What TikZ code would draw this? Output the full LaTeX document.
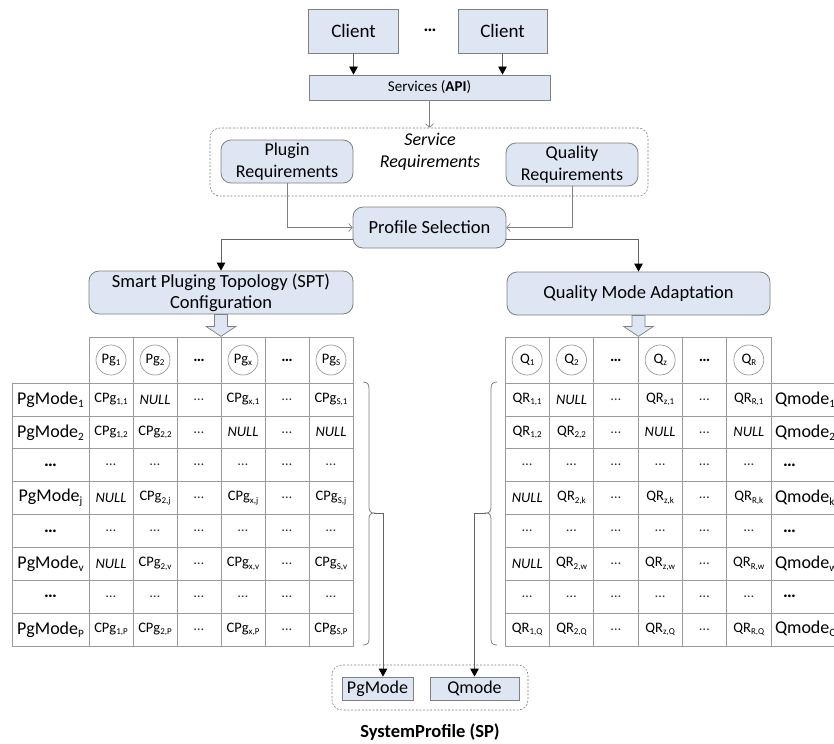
\documentclass[tikz,border=0pt]{standalone}
\usepackage{fontspec}
\setmainfont{Carlito}
\usepackage{graphicx}
\usetikzlibrary{arrows.meta}

\definecolor{boxfill}{RGB}{221,230,242}
\definecolor{boxline}{RGB}{128,128,128}
\definecolor{gridline}{RGB}{155,155,155}
\definecolor{wire}{RGB}{100,100,100}

\newcommand{\fsz}[2]{\fontsize{#1}{#2}\selectfont}
\newcommand{\Sb}[1]{\raisebox{-0.35ex}{\scalebox{0.62}{#1}}}
\newcommand{\Cpg}[1]{CPg\Sb{#1}}
\newcommand{\Qr}[1]{QR\Sb{#1}}
\newcommand{\Nul}{\textit{NULL}}
\newcommand{\Dt}{\textcolor{black!80}{…}}
\newcommand{\Bd}{\textbf{…}}

\begin{document}
\begin{tikzpicture}[x=1bp, y=-1bp,
  box/.style={draw=boxline, fill=boxfill, line width=0.8bp, inner sep=0pt},
  rbox/.style={box, rounded corners=10bp},
  grp/.style={draw=boxline, line width=0.6bp, dash pattern=on 2bp off 1.6bp, rounded corners=10bp, inner sep=0pt},
  arr/.style={draw=wire, line width=0.8bp, -{Triangle[length=8bp,width=8.5bp,color=black]}},
  barb/.style={draw=boxline, line width=0.7bp, -{Straight Barb[length=3.5bp,width=8bp]}},
  blk/.style={draw=boxline, fill=boxfill, line width=0.7bp, line join=miter},
  brc/.style={draw=boxline, line width=0.8bp},
  cell/.style={draw=gridline, line width=0.7bp, minimum width=44bp, minimum height=32.875bp, inner sep=0pt, font=\fsz{14.5bp}{16bp}},
  lcell/.style={cell, minimum width=77bp, font=\fsz{18bp}{20bp}},
  qcell/.style={cell, minimum width=100bp, text width=92bp, inner xsep=4bp, align=left, font=\fsz{18bp}{20bp}},
  hcell/.style={cell, minimum height=46bp},
  hcirc/.style={circle, draw=gridline, line width=0.7bp, minimum size=30bp, inner sep=0pt, font=\fsz{14.5bp}{16bp}},
  hdots/.style={font=\bfseries\fsz{16bp}{18bp}}
]
\useasboundingbox (0,0) rectangle (834,744);
\clip (0,0) rectangle (834,744);

% clients and service layer
\node[box, minimum width=90bp, minimum height=44bp, font=\fsz{19bp}{22bp}] (c1) at (353.5,31) {Client};
\node[box, minimum width=89bp, minimum height=44bp, font=\fsz{19bp}{22bp}] (c2) at (502.5,31) {Client};
\node[font=\bfseries\fsz{18bp}{20bp}] (cdots) at (430,30) {…};
\node[box, minimum width=241bp, minimum height=25bp, font=\fsz{15bp}{17bp}] (svc) at (429.5,87.5) {Services (\textbf{API})};
\draw[arr] (c1.south) -- (c1.south |- svc.north);
\draw[arr] (c2.south) -- (c2.south |- svc.north);

% service requirements group
\node[grp, minimum width=438bp, minimum height=68bp] (srg) at (429,162) {};
\node[font=\itshape\fsz{18bp}{22bp}, align=center] (srt) at (430,152) {Service\\Requirements};
\node[rbox, minimum width=132bp, minimum height=43bp, align=center, font=\fsz{18bp}{22bp}] (plr) at (287,161.5) {Plugin\\Requirements};
\node[rbox, minimum width=132bp, minimum height=43bp, align=center, font=\fsz{18bp}{22bp}] (qlr) at (572,164.5) {Quality\\Requirements};
\draw[barb] (svc.south) -- (svc.south |- srg.north);

% profile selection
\node[rbox, minimum width=153bp, minimum height=41bp, font=\fsz{18.5bp}{22bp}] (ps) at (429.5,227.5) {Profile Selection};
\draw[barb] (plr.south) |- (ps.west);
\draw[barb] (qlr.south) |- (ps.east);

% configuration blocks
\node[rbox, minimum width=264bp, minimum height=43bp, align=center, font=\fsz{18.5bp}{21bp}] (spt) at (221,292.5) {Smart Pluging Topology (SPT)\\Configuration};
\node[rbox, minimum width=263bp, minimum height=43bp, font=\fsz{18.5bp}{21bp}] (qma) at (638.5,293.5) {Quality Mode Adaptation};
\draw[arr] ([yshift=-12bp]ps.west) -| (spt.north);
\draw[arr] ([yshift=-12bp]ps.east) -| (qma.north);

% hollow block arrows into the tables
\draw[blk] ([xshift=-6.5bp]spt.south) -- ++(0,12) -- ++(-8.5,0) -- ++(15,10) -- ++(15,-10) -- ++(-8.5,0) -- ++(0,-12) -- cycle;
\draw[blk] ([xshift=-6.5bp]qma.south) -- ++(0,11) -- ++(-8.5,0) -- ++(15,10) -- ++(15,-10) -- ++(-8.5,0) -- ++(0,-11) -- cycle;

% plugin table: header
\foreach \j in {1,...,6} \node[hcell] (lh\j) at ({89+44*(\j-0.5)},360) {};
\foreach \j/\t in {1/1,2/2,4/x,6/S} \node[hcirc] (lc\j) at (lh\j) {Pg\Sb{\t}};
\foreach \j in {3,5} \node[hdots] (ld\j) at (lh\j) {…};

% plugin table: body
\foreach [count=\i] \rowc in {
  {PgMode\Sb{1}, \Cpg{1,1}, \Nul, \Dt, \Cpg{x,1}, \Dt, \Cpg{S,1}},
  {PgMode\Sb{2}, \Cpg{1,2}, \Cpg{2,2}, \Dt, \Nul, \Dt, \Nul},
  {\Bd, \Dt, \Dt, \Dt, \Dt, \Dt, \Dt},
  {PgMode\Sb{j}, \Nul, \Cpg{2,j}, \Dt, \Cpg{x,j}, \Dt, \Cpg{S,j}},
  {\Bd, \Dt, \Dt, \Dt, \Dt, \Dt, \Dt},
  {PgMode\Sb{v}, \Nul, \Cpg{2,v}, \Dt, \Cpg{x,v}, \Dt, \Cpg{S,v}},
  {\Bd, \Dt, \Dt, \Dt, \Dt, \Dt, \Dt},
  {PgMode\Sb{P}, \Cpg{1,P}, \Cpg{2,P}, \Dt, \Cpg{x,P}, \Dt, \Cpg{S,P}}}
{
  \foreach [count=\j] \cellc in \rowc {
    \ifnum\j=1
      \node[lcell] (l\i-\j) at (50.5,{383+32.875*(\i-0.5)}) {\cellc};
    \else
      \node[cell] (l\i-\j) at ({89+44*(\j-1.5)},{383+32.875*(\i-0.5)}) {\cellc};
    \fi
  }
}

% quality table: header
\foreach \j in {1,...,6} \node[hcell, minimum width=44.33bp] (rh\j) at ({505+44.33*(\j-0.5)},360) {};
\foreach \j/\t in {1/1,2/2,4/z,6/R} \node[hcirc] (rc\j) at (rh\j) {Q\Sb{\t}};
\foreach \j in {3,5} \node[hdots] (rd\j) at (rh\j) {…};

% quality table: body
\foreach [count=\i] \rowc in {
  {\Qr{1,1}, \Nul, \Dt, \Qr{z,1}, \Dt, \Qr{R,1}, Qmode\Sb{1}},
  {\Qr{1,2}, \Qr{2,2}, \Dt, \Nul, \Dt, \Nul, Qmode\Sb{2}},
  {\Dt, \Dt, \Dt, \Dt, \Dt, \Dt, \hspace*{8bp}\Bd},
  {\Nul, \Qr{2,k}, \Dt, \Qr{z,k}, \Dt, \Qr{R,k}, Qmode\Sb{k}},
  {\Dt, \Dt, \Dt, \Dt, \Dt, \Dt, \hspace*{8bp}\Bd},
  {\Nul, \Qr{2,w}, \Dt, \Qr{z,w}, \Dt, \Qr{R,w}, Qmode\Sb{w}},
  {\Dt, \Dt, \Dt, \Dt, \Dt, \Dt, \hspace*{8bp}\Bd},
  {\Qr{1,Q}, \Qr{2,Q}, \Dt, \Qr{z,Q}, \Dt, \Qr{R,Q}, Qmode\Sb{Q}}}
{
  \foreach [count=\j] \cellc in \rowc {
    \ifnum\j=7
      \node[qcell] (r\i-\j) at (821,{383+32.875*(\i-0.5)}) {\cellc};
    \else
      \node[cell, minimum width=44.33bp] (r\i-\j) at ({505+44.33*(\j-0.5)},{383+32.875*(\i-0.5)}) {\cellc};
    \fi
  }
}

% braces gathering the modes
\draw[brc] (363,382) .. controls (367.5,382) and (369,384) .. (369,389) -- (369,507)
  .. controls (369,511) and (370.5,513) .. (374,513)
  .. controls (370.5,513) and (369,515) .. (369,519) -- (369,639)
  .. controls (369,643) and (367.5,645) .. (363,645);
\draw[brc] (497,382) .. controls (492.5,382) and (491,384) .. (491,389) -- (491,507)
  .. controls (491,511) and (489.5,513) .. (486,513)
  .. controls (489.5,513) and (491,515) .. (491,519) -- (491,639)
  .. controls (491,643) and (492.5,645) .. (497,645);
\coordinate (lbt) at (374,513);
\coordinate (rbt) at (486,513);

% system profile
\node[grp, minimum width=196bp, minimum height=45bp] (sp) at (430,687.5) {};
\node[box, minimum width=71bp, minimum height=23bp, font=\fsz{18bp}{20bp}] (pgm) at (377.5,688.5) {PgMode};
\node[box, minimum width=89bp, minimum height=23bp, font=\fsz{18bp}{20bp}] (qm) at (474.5,688.5) {Qmode};
\node[font=\bfseries\fsz{18.5bp}{20bp}] (spl) at (430,732) {SystemProfile (SP)};
\draw[arr] (lbt) -| ([xshift=5.5bp]pgm.north);
\draw[arr] (rbt) -| (qm.north);
\end{tikzpicture}
\end{document}
